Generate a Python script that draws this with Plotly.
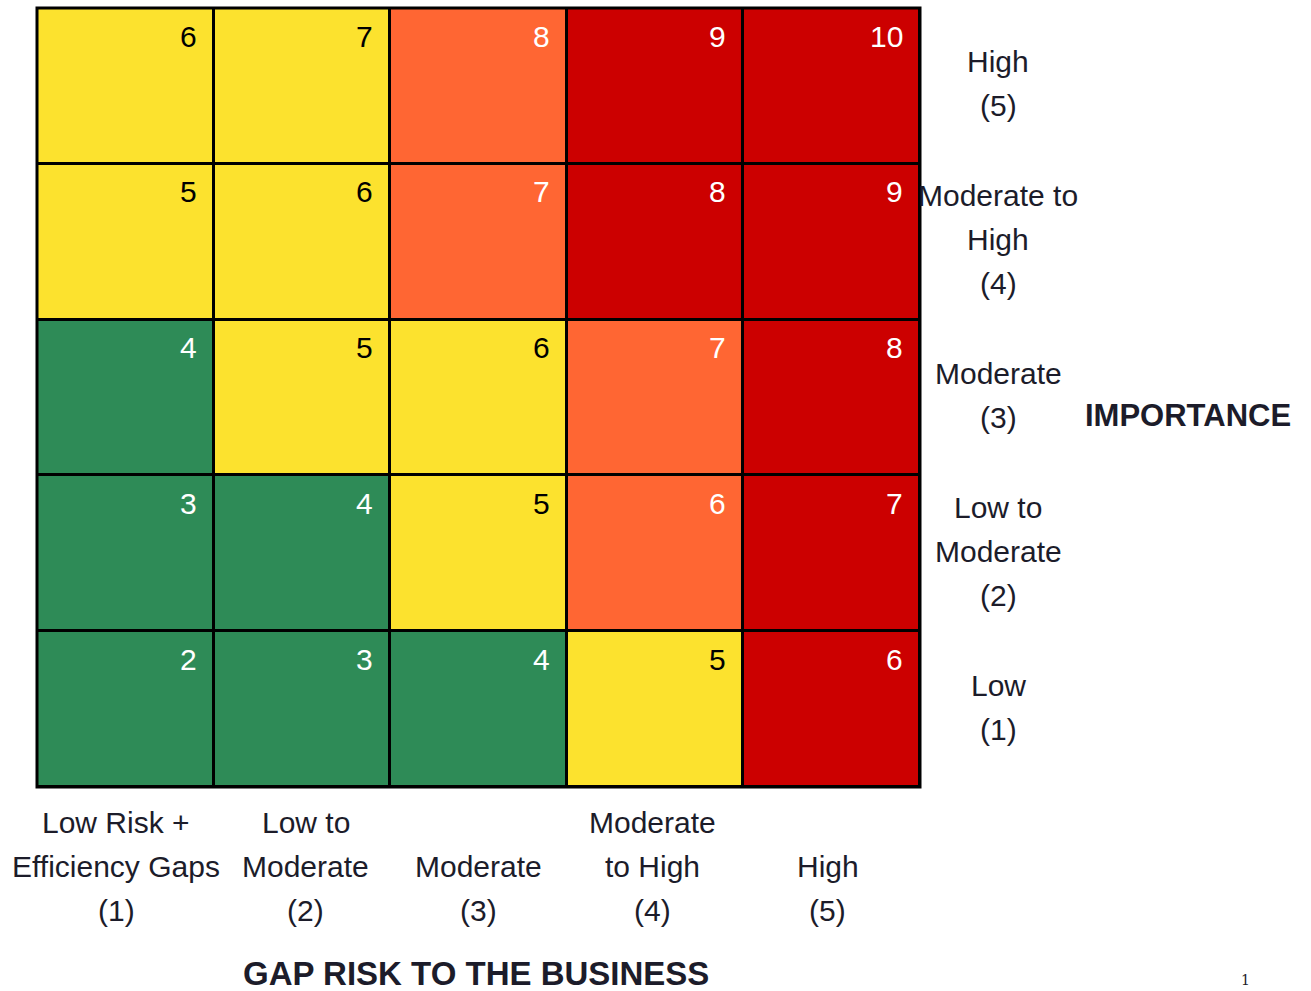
import plotly.graph_objects as go

# Gap risk (columns) and importance (rows, bottom to top), one entry per text line
gap_labels = [
    ["Low Risk +", "Efficiency Gaps", "(1)"],
    ["Low to", "Moderate", "(2)"],
    ["Moderate", "(3)"],
    ["Moderate", "to High", "(4)"],
    ["High", "(5)"],
]
importance_labels = [
    ["Low", "(1)"],
    ["Low to", "Moderate", "(2)"],
    ["Moderate", "(3)"],
    ["Moderate to", "High", "(4)"],
    ["High", "(5)"],
]

# Score per cell, rows = importance 1..5, columns = gap risk 1..5
scores = [
    [2, 3, 4, 5, 6],
    [3, 4, 5, 6, 7],
    [4, 5, 6, 7, 8],
    [5, 6, 7, 8, 9],
    [6, 7, 8, 9, 10],
]

# Rating band per cell: 0 = green, 1 = yellow, 2 = orange, 3 = red
bands = [
    [0, 0, 0, 1, 3],
    [0, 0, 1, 2, 3],
    [0, 1, 1, 2, 3],
    [1, 1, 2, 3, 3],
    [1, 1, 2, 3, 3],
]

band_colors = ["#2E8B57", "#FCE22E", "#FF6633", "#CC0000"]
band_text = ["white", "black", "white", "white"]

FONT = "Liberation Sans, Arial, sans-serif"
INK = "#1c1c2a"
LINE_STEP = 44          # pixel spacing between label lines
GAP_NUDGE = [-9, 4, 0, -3, -4]   # small horizontal nudges of the column captions

colorscale = []
for i, c in enumerate(band_colors):
    colorscale.append([i / len(band_colors), c])
    colorscale.append([(i + 1) / len(band_colors), c])

fig = go.Figure(go.Heatmap(
    z=bands,
    x=list(range(5)),
    y=list(range(5)),
    zmin=-0.5, zmax=3.5,
    colorscale=colorscale,
    showscale=False,
    xgap=3, ygap=3,
    hoverinfo="skip",
))

annotations = []
for r in range(5):
    for c in range(5):
        annotations.append(dict(
            x=c + 0.5, y=r + 0.5, xref="x", yref="y",
            text=str(scores[r][c]), showarrow=False,
            xanchor="right", yanchor="middle", xshift=-15, yshift=-28,
            font=dict(family=FONT, size=30, color=band_text[bands[r][c]]),
        ))

# column captions, bottom-aligned below the grid
for c, lines in enumerate(gap_labels):
    n = len(lines)
    for k, line in enumerate(lines):
        annotations.append(dict(
            x=c, y=-0.5, xref="x", yref="y", text=line, showarrow=False,
            xanchor="center", yanchor="middle", xshift=GAP_NUDGE[c],
            yshift=-123 + (n - 1 - k) * LINE_STEP,
            font=dict(family=FONT, size=30, color=INK),
        ))

# row captions, centred on each row to the right of the grid
for r, lines in enumerate(importance_labels):
    n = len(lines)
    for k, line in enumerate(lines):
        annotations.append(dict(
            x=1, y=r, xref="paper", yref="y", text=line, showarrow=False,
            xanchor="center", yanchor="middle", xshift=78,
            yshift=((n - 1) / 2 - k) * LINE_STEP + 2,
            font=dict(family=FONT, size=30, color=INK),
        ))

annotations.append(dict(
    x=1, y=2, xref="paper", yref="y", text="<b>IMPORTANCE</b>", showarrow=False,
    xanchor="center", yanchor="middle", xshift=268, yshift=-18,
    font=dict(family=FONT, size=31, color=INK),
))
annotations.append(dict(
    x=0.5, y=0, xref="paper", yref="paper", text="<b>GAP RISK TO THE BUSINESS</b>",
    showarrow=False, xanchor="center", yanchor="middle", xshift=-3, yshift=-186,
    font=dict(family=FONT, size=33, color=INK),
))
annotations.append(dict(
    x=1, y=0, xref="paper", yref="paper", text="1", showarrow=False,
    xanchor="center", yanchor="middle", xshift=325, yshift=-193,
    font=dict(family="DejaVu Serif, serif", size=14, color=INK),
))

fig.update_layout(
    width=1311, height=991,
    margin=dict(l=37, r=391, t=8, b=204),
    paper_bgcolor="white",
    plot_bgcolor="black",
    annotations=annotations,
    xaxis=dict(range=[-0.5, 4.5], showticklabels=False, showgrid=False,
               zeroline=False, ticks="", fixedrange=True),
    yaxis=dict(range=[-0.5, 4.5], showticklabels=False, showgrid=False,
               zeroline=False, ticks="", fixedrange=True),
    shapes=[dict(type="rect", xref="paper", yref="paper", x0=0, y0=0, x1=1, y1=1,
                 line=dict(color="black", width=3))],
)

fig.write_html("out.html")
